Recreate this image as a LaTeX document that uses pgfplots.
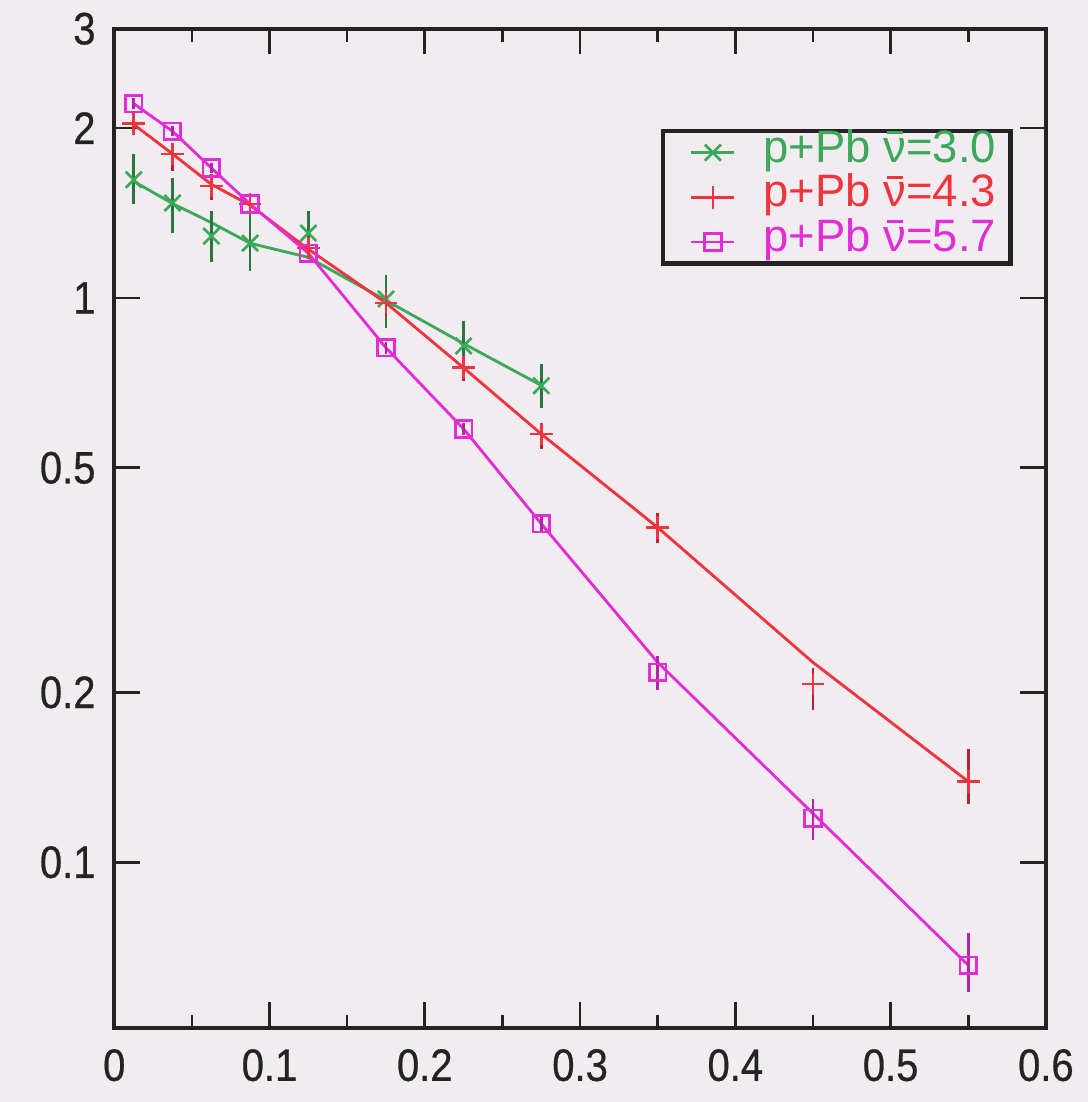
\documentclass[border=0pt]{standalone}
\usepackage{fontspec}
\setmainfont{Liberation Sans}
\newfontfamily\tickfont{Liberation Sans}[FakeStretch=0.88, FakeBold=0.6]
\usepackage{pgfplots}
\pgfplotsset{compat=1.18}
\definecolor{bgc}{RGB}{240,236,240}
\definecolor{cgreen}{RGB}{60,168,90}
\definecolor{cred}{RGB}{238,52,62}
\definecolor{cmag}{RGB}{226,44,214}
\definecolor{axc}{RGB}{35,35,35}
% nu with a bar over it
\newcommand{\nubar}{\leavevmode\rlap{\kern0.08em\raisebox{0.62em}{\rule{0.36em}{0.07em}}}ν}

\begin{document}
\pagecolor{bgc}
\begin{tikzpicture}
\begin{axis}[
    scale only axis,
    width=8.648cm, height=9.278cm,
    ymode=log,
    xmin=0, xmax=0.6,
    ymin=0.0508, ymax=3,
    xtick={0,0.1,0.2,0.3,0.4,0.5,0.6},
    xticklabels={0,0.1,0.2,0.3,0.4,0.5,0.6},
    minor xtick={0.05,0.15,0.25,0.35,0.45,0.55},
    ytick={0.1,0.2,0.5,1,2,3},
    yticklabels={0.1,0.2,0.5,1,2,3},
    tick align=inside,
    major tick length=0.24cm,
    minor tick length=0.12cm,
    tick style={line width=0.7pt, color=axc},
    axis line style={line width=1pt, color=axc},
    tick label style={font=\tickfont\fontsize{12}{14}\selectfont, text=axc},
    yticklabel style={xshift=-0.05cm},
    xticklabel style={yshift=-0.07cm},
    legend style={
        at={(0.9647,0.9)}, anchor=north east,
        draw=axc, line width=1.2pt, fill=bgc,
        font=\fontsize{12}{14}\selectfont,
        nodes={inner sep=0.5pt, text height=0.72em, text depth=0.21em},
        inner xsep=0.12cm, inner ysep=0.02cm,
        column sep=0.24cm, row sep=1.5pt,
    },
    legend cell align=left,
    legend image code/.code={
        \path (0cm,0cm);
        \draw[mark repeat=2, mark phase=2, #1, sharp plot, line width=0.7pt]
            plot coordinates {(0.12cm,0cm) (0.32cm,0cm) (0.52cm,0cm)};
    },
    error bars/error bar style={line width=0.7pt},
]
% fit lines
\addplot[cgreen, line width=0.75pt, forget plot] coordinates {
    (0.0125,1.61) (0.0375,1.47) (0.0625,1.36) (0.0875,1.25)
    (0.125,1.18) (0.175,0.99) (0.225,0.83) (0.275,0.70)};
\addplot[cred, line width=0.75pt, forget plot] coordinates {
    (0.0125,2.03) (0.0375,1.80) (0.0625,1.59) (0.0875,1.46)
    (0.125,1.22) (0.175,0.98) (0.225,0.752) (0.275,0.574)
    (0.35,0.392) (0.45,0.226) (0.55,0.139)};
\addplot[cmag, line width=0.75pt, forget plot] coordinates {
    (0.0125,2.21) (0.0375,1.975) (0.0625,1.70) (0.0875,1.467)
    (0.125,1.20) (0.175,0.816) (0.225,0.586) (0.275,0.398)
    (0.35,0.226) (0.45,0.122) (0.55,0.0657)};

% data, nu = 3.0
\addplot[cgreen, only marks, mark=x, mark size=3pt, mark options={line width=0.7pt},
    error bars/.cd, y dir=both, y explicit, error mark=none,
    error bar style={color=cgreen!70!black}]
    coordinates {
    (0.0125,1.62) += (0,0.18) -= (0,0.15)
    (0.0375,1.473) += (0,0.16) -= (0,0.17)
    (0.0625,1.287) += (0,0.14) -= (0,0.13)
    (0.0875,1.251) += (0,0.16) -= (0,0.135)
    (0.125,1.303) += (0,0.123) -= (0,0.126)
    (0.175,0.996) += (0,0.104) -= (0,0.111)
    (0.225,0.822) += (0,0.088) -= (0,0.08)
    (0.275,0.699) += (0,0.065) -= (0,0.06)};
\addlegendentry{\textcolor{cgreen}{p+Pb \nubar=3.0}}

% data, nu = 4.3
\addplot[cred, only marks, mark=+, mark size=3pt, mark options={line width=0.7pt},
    error bars/.cd, y dir=both, y explicit, error mark=none,
    error bar style={color=cred!75!black}]
    coordinates {
    (0.0125,2.04) += (0,0.07) -= (0,0.07)
    (0.0375,1.80) += (0,0.07) -= (0,0.12)
    (0.0625,1.58) += (0,0.04) -= (0,0.09)
    (0.0875,1.467) += (0,0.06) -= (0,0.06)
    (0.125,1.226) += (0,0.05) -= (0,0.05)
    (0.175,0.98) += (0,0.05) -= (0,0.05)
    (0.225,0.752) += (0,0.031) -= (0,0.039)
    (0.275,0.574) += (0,0.024) -= (0,0.034)
    (0.35,0.392) += (0,0.024) -= (0,0.024)
    (0.45,0.207) += (0,0.014) -= (0,0.021)
    (0.55,0.139) += (0,0.02) -= (0,0.012)};
\addlegendentry{\textcolor{cred}{p+Pb \nubar=4.3}}

% data, nu = 5.7
\addplot[cmag, only marks, mark=square, mark size=2.2pt, mark options={line width=0.7pt},
    error bars/.cd, y dir=both, y explicit, error mark=none,
    error bar style={color=cmag!80!black}]
    coordinates {
    (0.0125,2.21) += (0,0.05) -= (0,0.05)
    (0.0375,1.975) += (0,0.04) -= (0,0.04)
    (0.0625,1.70) += (0,0.035) -= (0,0.035)
    (0.0875,1.467) += (0,0.03) -= (0,0.03)
    (0.125,1.20) += (0,0.03) -= (0,0.03)
    (0.175,0.816) += (0,0.02) -= (0,0.02)
    (0.225,0.586) += (0,0.015) -= (0,0.015)
    (0.275,0.398) += (0,0.012) -= (0,0.012)
    (0.35,0.217) += (0,0.015) -= (0,0.015)
    (0.45,0.1197) += (0,0.01) -= (0,0.01)
    (0.55,0.0657) += (0,0.0093) -= (0,0.0069)};
\addlegendentry{\textcolor{cmag}{p+Pb \nubar=5.7}}
\end{axis}
\path[use as bounding box]
    ([shift={(-0.963cm,-0.685cm)}]current axis.south west)
    rectangle ([shift={(0.389cm,0.241cm)}]current axis.north east);
\end{tikzpicture}
\end{document}
